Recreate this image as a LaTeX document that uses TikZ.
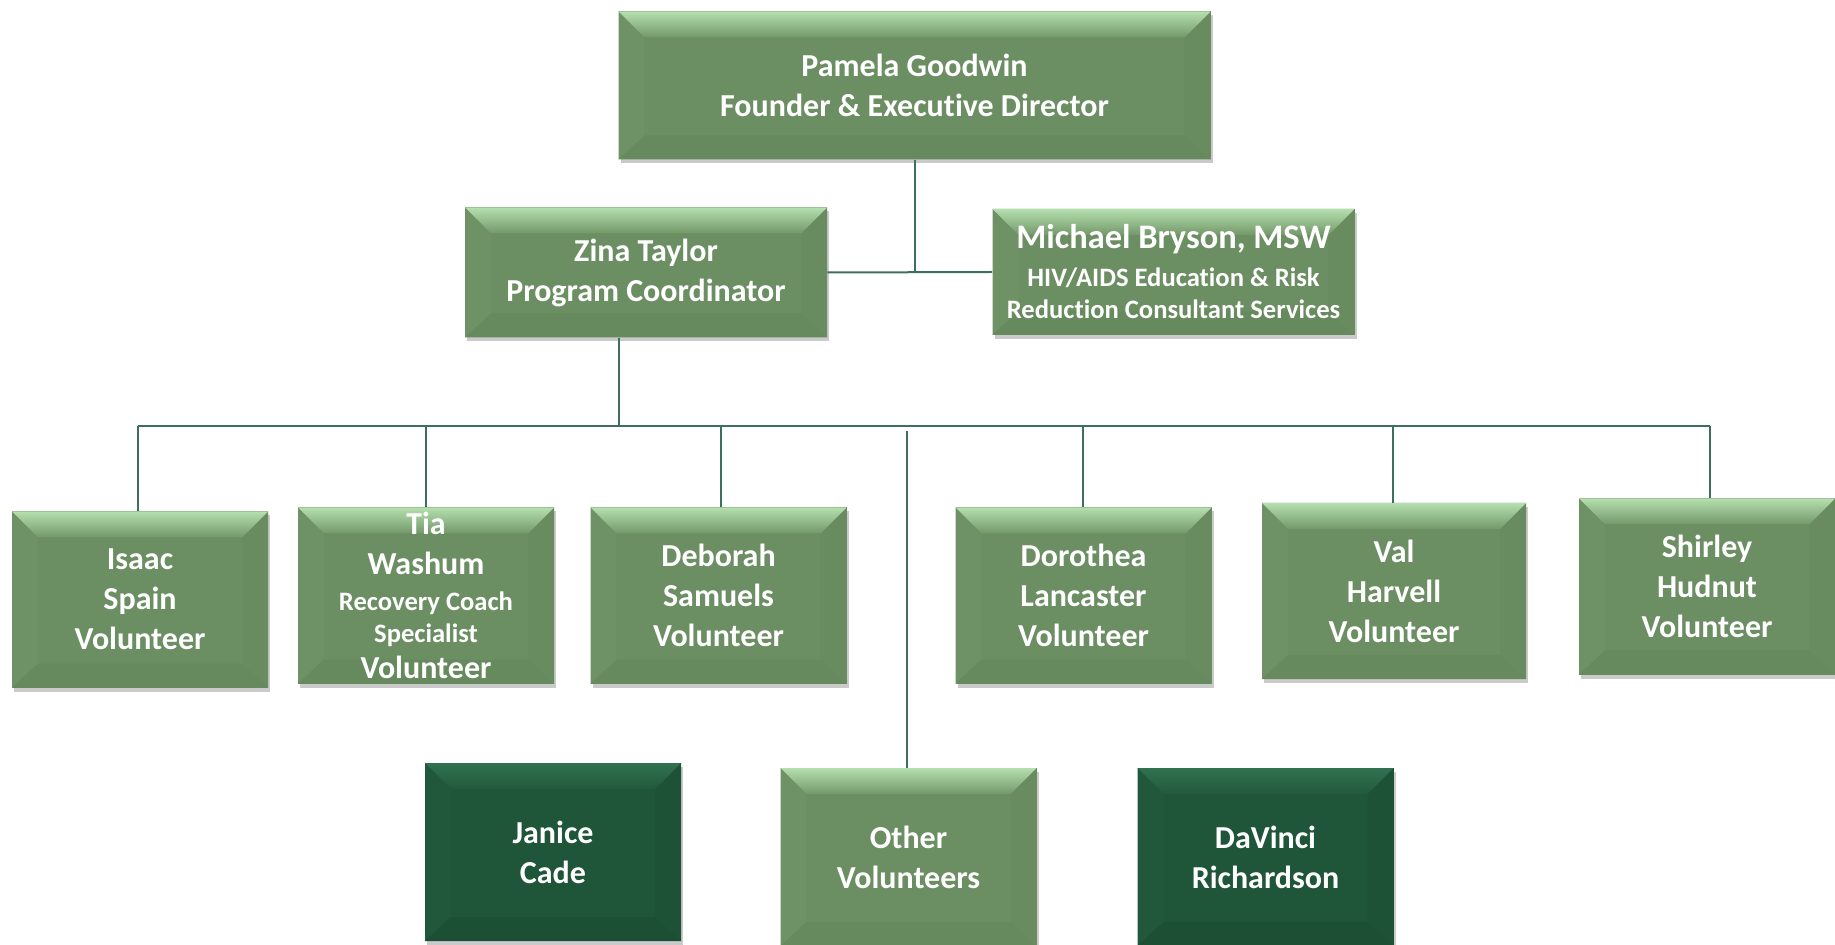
\documentclass[tikz,border=0pt]{standalone}
\usepackage{fontspec}
\setmainfont{Carlito}[Ligatures=NoCommon]
\usetikzlibrary{shadows}
\definecolor{gmain}{HTML}{6B8E62}
\definecolor{gtop}{HTML}{B5DFAE}
\definecolor{gtopb}{HTML}{739869}
\definecolor{gleft}{HTML}{6E9265}
\definecolor{gright}{HTML}{688B5F}
\definecolor{gbot}{HTML}{66895D}
\definecolor{dmain}{HTML}{1F5538}
\definecolor{dtop}{HTML}{307250}
\definecolor{dtopb}{HTML}{22593C}
\definecolor{dleft}{HTML}{21573A}
\definecolor{dright}{HTML}{1D5236}
\definecolor{dbot}{HTML}{1C4F34}
\definecolor{linec}{HTML}{3D6E62}
\newcommand\bevpic[5]{%
  \def\bb{path picture bounding box}%
  \fill[#3] (\bb.north west) -- ([xshift=13pt,yshift=-13pt]\bb.north west)
    -- ([xshift=13pt,yshift=12pt]\bb.south west) -- (\bb.south west) -- cycle;
  \fill[#4] (\bb.north east) -- ([xshift=-13pt,yshift=-13pt]\bb.north east)
    -- ([xshift=-13pt,yshift=12pt]\bb.south east) -- (\bb.south east) -- cycle;
  \fill[#5] (\bb.south west) -- ([xshift=13pt,yshift=12pt]\bb.south west)
    -- ([xshift=-13pt,yshift=12pt]\bb.south east) -- (\bb.south east) -- cycle;
  \fill[top color=#1,bottom color=#2] (\bb.north west) -- (\bb.north east)
    -- ([xshift=-13pt,yshift=-13pt]\bb.north east) -- ([xshift=13pt,yshift=-13pt]\bb.north west) -- cycle;
}
\tikzset{
  box/.style={rectangle, inner sep=0pt, align=center, text=white,
    font=\bfseries\fontsize{16}{20}\selectfont,
    drop shadow={shadow xshift=1pt, shadow yshift=-2pt, opacity=0.35, fill=black!60}},
  gbox/.style={box, fill=gmain, path picture={\bevpic{gtop}{gtopb}{gleft}{gright}{gbot}}},
  dbox/.style={box, fill=dmain, path picture={\bevpic{dtop}{dtopb}{dleft}{dright}{dbot}}},
  row/.style={minimum width=128pt, minimum height=88pt},
  conn/.style={draw=linec, line width=1pt}
}
\newcommand\sm{\fontsize{13.3}{16}\selectfont}
\begin{document}
\begin{tikzpicture}[x=0.5pt,y=-0.5pt]
\useasboundingbox (0,0) rectangle (1835,945);
\node[gbox, minimum width=296pt, minimum height=74pt] (pam) at (914.5,85.5)
  {Pamela Goodwin\\Founder \& Executive Director};
\node[gbox, minimum width=181pt, minimum height=65pt] (zina) at (646,272.5)
  {Zina Taylor\\Program Coordinator};
\node[gbox, minimum width=181pt, minimum height=63pt] (mich) at (1173.5,272)
  {{\fontsize{17.2}{20}\selectfont Michael Bryson, MSW}\\[-1pt]{\sm HIV/AIDS Education \& Risk}\\[-4pt]{\sm Reduction Consultant Services}};
\node[gbox, row] (isaac) at (140,599.5) {Isaac\\Spain\\Volunteer};
\node[gbox, row] (tia) at (426,595.5)
  {Tia\\Washum\\[-2pt]{\sm Recovery Coach}\\[-4pt]{\sm Specialist}\\[-2pt]Volunteer};
\node[gbox, row] (deb) at (718.5,595.5) {Deborah\\Samuels\\Volunteer};
\node[gbox, row] (dor) at (1083.5,595.5) {Dorothea\\Lancaster\\Volunteer};
\node[gbox, row, minimum width=132pt] (val) at (1394,591) {Val\\Harvell\\Volunteer};
\node[gbox, row] (shir) at (1707,586.5) {Shirley\\Hudnut\\Volunteer};
\node[dbox, row, minimum height=89pt] (jan) at (553,852) {Janice\\Cade};
\node[gbox, row, minimum height=89pt] (oth) at (908.5,857) {Other\\Volunteers};
\node[dbox, row, minimum height=89pt] (dav) at (1265.5,857) {DaVinci\\Richardson};
% connectors
\coordinate (busl) at (138,426);
\coordinate (busr) at (1710,426);
\draw[conn] (zina.east) -- (mich.west);
\draw[conn] (pam.south) -- (pam.south |- zina.east);
\draw[conn] (zina.south -| 619,0) -- (619,426) coordinate (busm);
\draw[conn] (busl) -- (busr);
\draw[conn] (busl) -- (isaac.north -| busl);
\draw[conn] (426,426) -- (tia.north);
\draw[conn] (721,426) -- (deb.north -| 721,0);
\draw[conn] (907,431) -- (oth.north -| 907,0);
\draw[conn] (1083,426) -- (dor.north -| 1083,0);
\draw[conn] (1393,426) -- (val.north -| 1393,0);
\draw[conn] (busr) -- (shir.north -| busr);
\end{tikzpicture}
\end{document}
